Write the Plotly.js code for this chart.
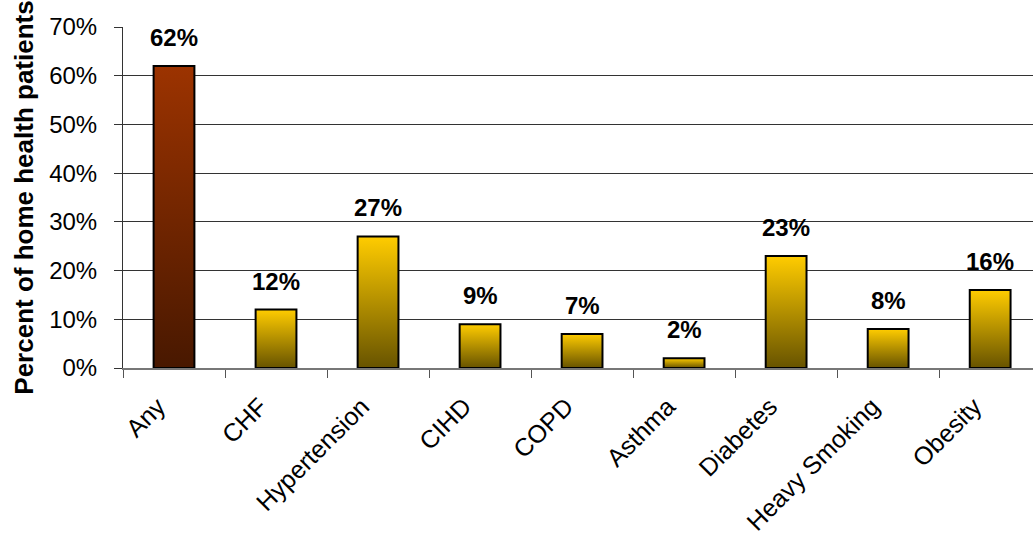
<!DOCTYPE html>
<html><head><meta charset="utf-8">
<script src="https://cdn.plot.ly/plotly-3.0.1.min.js"></script>
<style>html,body{margin:0;padding:0;background:#fff}</style>
</head><body>
<div id="chart" style="width:1033px;height:537px"></div>
<script>
const categories = ["Any","CHF","Hypertension","CIHD","COPD","Asthma","Diabetes","Heavy Smoking","Obesity"];
const values = [62,12,27,9,7,2,23,8,16];
const labels = values.map(v => v + "%");
const barColors = categories.map((c,i) => i === 0 ? "#7a2a00" : "#c9a000");

const FONT = "Liberation Sans, Arial, sans-serif";

const trace = {
  type: "bar",
  x: categories,
  y: values,
  marker: {color: barColors, line: {color: "#000", width: 2}},
  hoverinfo: "none"
};

const annotations = categories.map((c, i) => ({
  x: c, y: values[i], xref: "x", yref: "y",
  text: labels[i], showarrow: false,
  yanchor: "bottom", yshift: 13,
  font: {family: FONT, size: 24, color: "#000", weight: "bold"}
}));

const layout = {
  width: 1033, height: 537,
  margin: {l: 123, r: 0, t: 27, b: 169},
  paper_bgcolor: "#fff", plot_bgcolor: "#fff",
  bargap: 0.6,
  showlegend: false,
  font: {family: FONT, color: "#000"},
  annotations: annotations,
  xaxis: {
    type: "category",
    range: [-0.5, 8.42],
    tickson: "boundaries",
    ticks: "outside", ticklen: 8, tickcolor: "#555", tickwidth: 1,
    tickangle: -45,
    tickfont: {size: 25, color: "#000"},
    ticklabelshift: -16,
    ticklabelstandoff: 12,
    showline: true, linecolor: "#777", linewidth: 2,
    showgrid: false
  },
  yaxis: {
    range: [0, 70], dtick: 10,
    ticksuffix: "%",
    ticks: "outside", ticklen: 8, tickcolor: "#333",
    tickfont: {size: 24, color: "#000"},
    ticklabelstandoff: 12,
    showline: true, linecolor: "#333", linewidth: 1,
    showgrid: true, gridcolor: "#333", gridwidth: 1,
    zeroline: false,
    title: {text: "Percent of home health patients", font: {size: 26, weight: "bold", color: "#000"}, standoff: 8}
  }
};

Plotly.newPlot("chart", [trace], layout, {staticPlot: true}).then(() => {
  const ns = "http://www.w3.org/2000/svg";
  const defs = document.querySelector(".main-svg defs");
  function grad(id, top, bottom) {
    const g = document.createElementNS(ns, "linearGradient");
    g.setAttribute("id", id);
    g.setAttribute("x1", "0"); g.setAttribute("y1", "0");
    g.setAttribute("x2", "0"); g.setAttribute("y2", "1");
    const s1 = document.createElementNS(ns, "stop");
    s1.setAttribute("offset", "0"); s1.setAttribute("stop-color", top);
    const s2 = document.createElementNS(ns, "stop");
    s2.setAttribute("offset", "1"); s2.setAttribute("stop-color", bottom);
    g.appendChild(s1); g.appendChild(s2);
    defs.appendChild(g);
  }
  grad("gradAny", "#9c3300", "#481800");
  grad("gradGold", "#ffcc00", "#675300");
  document.querySelectorAll(".bars .point path").forEach((p, i) => {
    p.style.fill = i === 0 ? "url(#gradAny)" : "url(#gradGold)";
  });
});
</script>
</body></html>
